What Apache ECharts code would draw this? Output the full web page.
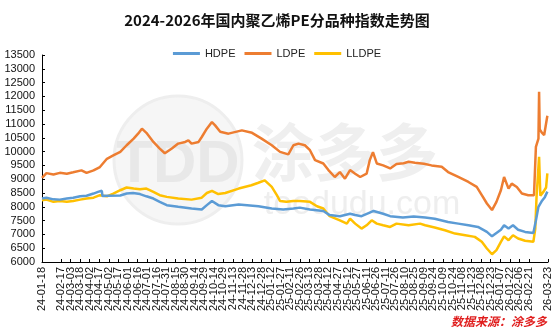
<!DOCTYPE html>
<html>
<head>
<meta charset="utf-8">
<script src="https://cdn.jsdelivr.net/npm/echarts@6/dist/echarts.min.js"></script>
<style>
html,body{margin:0;padding:0;background:#fff;}
#chart{width:554px;height:334px;}
</style>
</head>
<body>
<div id="chart"></div>
<script>
// Day offsets from 2024-01-18; x ticks every 15 days up to 2026-03-23
const baseDate = '2024-01-18';
const seriesNames = ['HDPE', 'LDPE', 'LLDPE'];
const yTicks = { min: 6000, max: 13500, step: 500 };

const hdpe = [[0,8300],[7,8330],[18,8270],[28,8260],[39,8300],[49,8330],[60,8380],[70,8400],[81,8480],[88,8540],[94,8580],[95,8390],[102,8400],[123,8410],[133,8480],[143,8500],[154,8460],[164,8380],[175,8300],[185,8180],[196,8060],[214,8000],[235,7940],[251,7900],[259,8060],[267,8210],[277,8060],[288,8020],[309,8080],[340,8020],[361,7940],[379,7900],[395,7940],[405,7970],[421,7900],[442,7850],[452,7700],[468,7660],[484,7750],[492,7700],[502,7660],[514,7780],[521,7850],[536,7750],[547,7660],[567,7610],[584,7650],[602,7610],[617,7570],[638,7450],[654,7390],[670,7330],[685,7270],[699,7090],[707,6930],[714,7050],[721,7170],[726,7330],[733,7210],[740,7330],[748,7170],[759,7090],[772,7050],[776,7500],[780,8000],[785,8200],[790,8350],[794,8550]];

const ldpe = [[0,9050],[7,9220],[18,9170],[28,9230],[39,9200],[49,9250],[62,9320],[70,9230],[81,9320],[91,9440],[102,9740],[112,9860],[123,9990],[133,10230],[144,10470],[151,10650],[157,10830],[164,10680],[175,10350],[185,10110],[193,9940],[204,10110],[214,10290],[225,10350],[230,10410],[235,10290],[246,10350],[251,10530],[259,10830],[267,11070],[272,10950],[280,10720],[293,10650],[314,10770],[330,10680],[345,10470],[361,10230],[374,9990],[387,9900],[395,10230],[403,10290],[413,10230],[421,10050],[429,9690],[442,9570],[450,9330],[460,9080],[468,9260],[476,9020],[484,9330],[492,9200],[500,9080],[510,9200],[515,9690],[520,9980],[526,9570],[536,9500],[547,9390],[557,9550],[568,9580],[576,9630],[586,9600],[600,9560],[612,9500],[628,9450],[638,9260],[654,9080],[670,8900],[683,8720],[691,8420],[699,8120],[707,7880],[714,8180],[721,8600],[726,9080],[733,8660],[738,8840],[746,8720],[754,8480],[764,8420],[773,8420],[776,10170],[780,10470],[781,12170],[782,10800],[785,10700],[789,10600],[792,10650],[794,11300]];

const lldpe = [[0,8240],[7,8260],[18,8180],[28,8210],[39,8180],[49,8210],[60,8260],[70,8300],[81,8330],[91,8420],[102,8380],[112,8480],[123,8600],[133,8700],[144,8660],[154,8640],[164,8660],[175,8540],[185,8420],[196,8360],[214,8300],[235,8260],[251,8330],[259,8500],[267,8580],[277,8460],[288,8500],[309,8660],[329,8780],[340,8870],[350,8960],[353,8990],[361,8720],[369,8420],[374,8210],[384,8180],[395,8210],[405,8210],[421,8180],[432,8020],[442,7940],[452,7660],[468,7510],[479,7390],[484,7570],[492,7390],[502,7210],[510,7330],[518,7510],[526,7390],[536,7330],[547,7270],[557,7390],[576,7330],[594,7390],[602,7330],[617,7250],[633,7150],[649,7030],[665,6970],[680,6910],[691,6730],[699,6490],[707,6280],[714,6430],[721,6730],[726,6930],[733,6790],[740,6970],[748,6850],[759,6770],[772,6730],[775,7200],[777,8360],[781,9810],[783,8400],[788,8550],[792,8700],[794,9210]];

const totalDays = 795;
const tickDays = 15;
const colors = ['#5b9bd5', '#ed7d31', '#ffc000'];

const baseMs = Date.parse(baseDate + 'T00:00:00Z');
function fmtDay(v) {
  const d = new Date(baseMs + Math.round(v) * 86400000);
  const yy = String(d.getUTCFullYear()).slice(2);
  const mm = String(d.getUTCMonth() + 1).padStart(2, '0');
  const dd = String(d.getUTCDate()).padStart(2, '0');
  return yy + '-' + mm + '-' + dd;
}
// daily category labels (only every 15th shown)
const dayCategories = [];
for (let d = 0; d <= totalDays; d++) dayCategories.push(fmtDay(d));

const chart = echarts.init(document.getElementById('chart'), null, { renderer: 'canvas' });
const dataSets = [hdpe, ldpe, lldpe];

chart.setOption({
  animation: false,
  backgroundColor: '#fff',
  title: {
    text: '2024-2026年国内聚乙烯PE分品种指数走势图',
    left: 'center',
    top: 8,
    textStyle: { fontFamily: 'Noto Sans CJK SC', fontSize: 15, fontWeight: 'bold', color: '#111' }
  },
  legend: {
    data: seriesNames.map(n => ({ name: n, icon: 'rect' })),
    left: 'center',
    top: 43,
    itemWidth: 27,
    itemHeight: 3,
    itemGap: 9,
    textStyle: { fontFamily: 'Liberation Sans Narrow, Liberation Sans', fontSize: 11, color: '#222' }
  },
  grid: { left: 42, right: 6, top: 55, bottom: 72, containLabel: false },
  xAxis: {
    type: 'category',
    data: dayCategories,
    boundaryGap: false,
    axisLine: { show: true, lineStyle: { color: '#000', width: 1 } },
    axisTick: { show: true, inside: true, length: 3, interval: tickDays - 1, lineStyle: { color: '#000' } },
    splitLine: { show: false },
    axisLabel: {
      rotate: 90,
      margin: 5,
      interval: tickDays - 1,
      showMinLabel: true,
      showMaxLabel: true,
      hideOverlap: false,
      fontFamily: 'Liberation Sans',
      fontSize: 11,
      color: '#111'
    }
  },
  yAxis: {
    type: 'value',
    min: yTicks.min,
    max: yTicks.max,
    interval: yTicks.step,
    axisLine: { show: true, lineStyle: { color: '#000', width: 1 } },
    axisTick: { show: true, inside: true, length: 3, lineStyle: { color: '#000' } },
    splitLine: { show: false },
    axisLabel: { margin: 7, fontFamily: 'Liberation Sans', fontSize: 11, color: '#111', formatter: v => String(v) }
  },
  graphic: [
    { type: 'circle', z: 0, silent: true, shape: { cx: 178, cy: 160, r: 64 }, style: { fill: '#f6f6f6', stroke: '#eeeeee', lineWidth: 3 } },
    { type: 'text', z: 0, silent: true, x: 178, y: 165, style: { text: 'TDD', font: 'bold 60px Liberation Sans', fill: '#e8e8e8', align: 'center', verticalAlign: 'middle' } },
    { type: 'text', z: 0, silent: true, x: 345, y: 152, style: { text: '涂多多', font: 'bold 62px Noto Sans CJK SC', fill: '#efefef', align: 'center', verticalAlign: 'middle' } },
    { type: 'text', z: 0, silent: true, x: 362, y: 205, style: { text: 'toodudu.com', font: '34px Liberation Sans', fill: '#eeeeee', align: 'center', verticalAlign: 'middle' } },
    { type: 'text', z: 10, x: 547, y: 321, style: { text: '数据来源：涂多多', font: 'italic bold 12px Noto Sans CJK SC', fill: '#e01e1e', align: 'right', verticalAlign: 'middle' } }
  ],
  series: seriesNames.map((name, i) => ({
    name: name,
    type: 'line',
    data: dataSets[i],
    showSymbol: false,
    symbol: 'none',
    z: 5 + (i === 0 ? 1 : 0),
    lineStyle: { color: colors[i], width: 2.5 },
    itemStyle: { color: colors[i] }
  }))
});
</script>
</body>
</html>
